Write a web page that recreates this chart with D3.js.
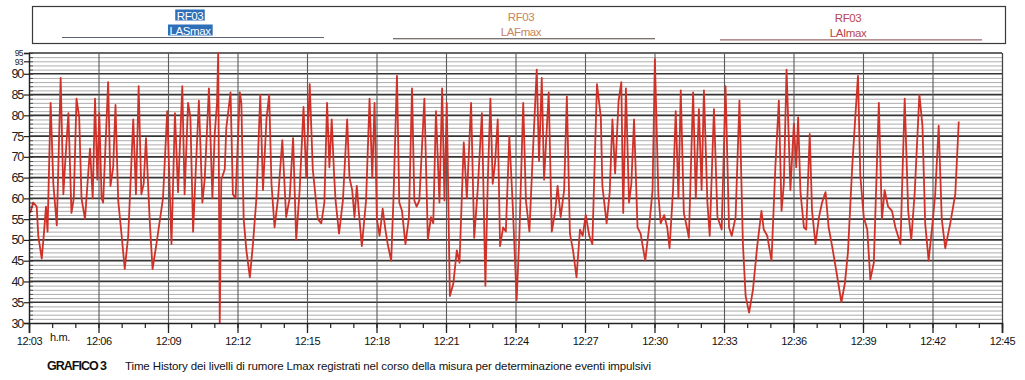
<!DOCTYPE html>
<html>
<head>
<meta charset="utf-8">
<script src="https://cdn.jsdelivr.net/npm/d3@7"></script>
<style>
  body { margin: 0; background: #fff; }
  svg { display: block; }
  text { font-family: "Liberation Sans", Arial, sans-serif; }
</style>
</head>
<body>
<svg id="chart" width="1025" height="380"></svg>
<script>
// ---- data ----------------------------------------------------------------
const startClock = "12:03:00";
const endClock = "12:45:00";
const stationName = "RF03";
const seriesNames = ["LASmax", "LAFmax", "LAImax"];
const chartNumber = "GRAFICO 3";
const captionText = "Time History dei livelli di rumore Lmax registrati nel corso della misura per determinazione eventi impulsivi";
const timeUnitLabel = "h.m.";
const yTickValues = [30, 35, 40, 45, 50, 55, 60, 65, 70, 75, 80, 85, 90, 93, 95];

// seconds elapsed since 12:03:00
const elapsedSeconds = [
  3, 11, 20, 24, 33, 39, 44, 48, 56, 63,
  72, 82, 89, 93, 102, 110, 116, 123, 130, 136,
  145, 158, 165, 171, 177, 182, 188, 192, 205, 211,
  218, 224, 231, 240, 248, 257, 270, 277, 284, 291,
  297, 303, 313, 320, 330, 347, 358, 369, 378, 386,
  397, 403, 412, 418, 425, 432, 440, 449, 455, 466,
  475, 481, 487, 490, 494, 498, 507, 511, 522, 528,
  535, 546, 550, 556, 563, 572, 580, 589, 599, 606,
  615, 622, 628, 636, 645, 656, 666, 675, 684, 692,
  701, 711, 718, 727, 735, 748, 757, 765, 772, 778,
  784, 790, 794, 803, 813, 824, 830, 837, 843, 849,
  854, 862, 873, 882, 889, 895, 901, 908, 916, 923,
  929, 938, 944, 953, 959, 966, 975, 984, 992, 998,
  1004, 1011, 1024, 1033, 1041, 1047, 1054, 1063, 1070, 1076,
  1082, 1090, 1099, 1108, 1115, 1126, 1134, 1145, 1153, 1162,
  1173, 1182, 1188, 1195, 1201, 1207, 1214, 1220, 1228, 1235,
  1244, 1253, 1263, 1270, 1280, 1287, 1296, 1304, 1315, 1321,
  1328, 1334, 1346, 1354, 1363, 1369, 1377, 1386, 1393, 1401,
  1409, 1418, 1427, 1434, 1442, 1451, 1459, 1471, 1481, 1485,
  1496, 1504, 1511, 1518, 1527, 1534, 1539, 1546, 1554, 1560,
  1567, 1576, 1584, 1596, 1606, 1615, 1621, 1630, 1636, 1645,
  1653, 1659, 1668, 1675, 1682, 1688, 1696, 1705, 1709, 1720,
  1727, 1735, 1742, 1748, 1757, 1763, 1774, 1783, 1794, 1804,
  1813, 1820, 1830, 1840, 1849, 1856, 1865, 1875, 1886, 1897,
  1903, 1912, 1923, 1933, 1942, 1949, 1955, 1962, 1972, 1981,
  1987, 1992, 1998, 2007, 2013, 2022, 2028, 2037, 2046, 2054,
  2063, 2071, 2080, 2090, 2104, 2113, 2121, 2132, 2140, 2147,
  2153, 2162, 2171, 2179, 2188, 2201, 2209, 2216, 2225, 2235,
  2244, 2257, 2268, 2277, 2285, 2294, 2306, 2314, 2321, 2330,
  2340, 2347, 2356, 2364, 2373, 2386, 2399, 2408
];

// Lmax level, dB(A)
const levelsDb = [
  56.5, 59, 58, 51, 45.5, 52, 58, 52, 83, 63.5,
  53.5, 89, 61, 67.5, 80.5, 56.5, 60, 84, 79.5, 60,
  55, 72, 60, 84, 64.5, 80.5, 60, 59, 88, 63,
  67.5, 82.5, 59.5, 51, 43, 51, 79, 61, 87, 61,
  63.5, 74.5, 54, 43, 49, 60, 81, 49, 80.5, 61.5,
  87, 61, 83, 79.5, 52, 67, 83.5, 59, 64.5, 86.5,
  60, 75.5, 83, 95, 30, 64.5, 67, 77, 85.5, 61,
  60, 85.5, 83, 55, 47.5, 41, 49, 60, 85, 62,
  79, 85, 63.5, 53, 60, 74, 55.5, 60, 74.5, 50,
  62, 82, 65, 87.5, 67, 55, 54, 59, 83, 67.5,
  79, 66, 59.5, 51.5, 59.5, 79, 65, 62, 55.5, 63,
  57, 48.5, 59.5, 84, 65, 83, 55, 51, 57.5, 52.5,
  49, 45, 60, 89.5, 59, 57, 49, 55.5, 86.5, 59.5,
  58, 59.5, 84, 50, 55.5, 54, 81, 59, 86.5, 59.5,
  83, 36.5, 39.5, 47.5, 44.5, 73.5, 60, 83, 50.5, 62,
  80.5, 39, 63.5, 84, 63.5, 68.5, 79, 48.5, 53, 52,
  75, 58, 35.5, 51, 83, 59.5, 52, 69, 91, 69,
  89, 64.5, 85.5, 52, 57, 63, 55.5, 62, 84.5, 51.5,
  47.5, 41, 52.5, 51, 56, 51, 49, 87.5, 79.5, 63,
  54, 61.5, 79, 66, 83.5, 88, 56.5, 86.5, 59, 63.5,
  79, 53, 51.5, 45, 53, 62, 93.5, 61, 54, 56,
  53, 48, 62, 81, 60, 86, 56.5, 52.5, 50.5, 85.5,
  60, 81.5, 62, 86, 59, 51, 81.5, 55.5, 52.5, 87,
  53, 51, 55.5, 83.5, 49, 36.5, 32.5, 38, 48.5, 57,
  52.5, 51, 45, 67.5, 83.5, 57, 63.5, 91, 62, 78,
  67.5, 79.5, 61.5, 53, 52.5, 75.5, 57, 49, 55.5, 59,
  61.5, 53, 48.5, 43, 35, 39.5, 47, 67.5, 79.5, 89.5,
  65.5, 55.5, 52.5, 40.5, 44.5, 83, 55, 62, 58, 57,
  53, 49, 84, 57, 50, 61.5, 85, 77.5, 54, 45,
  54, 61, 77.5, 55, 48, 54, 61, 78.5
];

// ---- layout ---------------------------------------------------------------
const svg = d3.select("#chart");
const plot = { left: 29, right: 1002, top: 53, bottom: 323 };
const parseClock = d3.timeParse("%H:%M:%S");
const t0 = parseClock(startClock);
const t1 = parseClock(endClock);

const x = d3.scaleTime().domain([t0, t1]).range([plot.left, plot.right]);
const y = d3.scaleLinear().domain([30, 95]).range([plot.bottom, plot.top]);

const points = elapsedSeconds.map((s, i) => ({
  time: d3.timeSecond.offset(t0, s),
  level: levelsDb[i]
}));

// ---- legend box -------------------------------------------------------------
const legend = svg.append("g");
legend.append("rect")
  .attr("x", 32.5).attr("y", 6.5).attr("width", 973).attr("height", 37)
  .attr("fill", "none").attr("stroke", "#3a3a3a").attr("stroke-width", 1.2);

const legendStyle = [
  { cx: 190, text: "#ffffff", bg: "#2f6fb8", line: "#5c6670" },
  { cx: 521, text: "#c5845e", bg: null, line: "#4a4440" },
  { cx: 848, text: "#b9474a", bg: null, line: "#9a6a6a" }
];

seriesNames.forEach((name, i) => {
  const st = legendStyle[i];
  const g = legend.append("g");
  g.append("line")
    .attr("x1", st.cx - 128).attr("x2", st.cx + 134)
    .attr("y1", 37.5 + i * 1.2).attr("y2", 37.5 + i * 1.2)
    .attr("stroke", st.line).attr("stroke-width", 1.1);
  const rows = [stationName, name];
  rows.forEach((txt, r) => {
    const t = g.append("text")
      .attr("x", st.cx).attr("y", 19.5 + r * 15 + i * 1)
      .attr("text-anchor", "middle")
      .attr("font-size", 11.5)
      .attr("letter-spacing", "-0.4")
      .attr("fill", st.text)
      .text(txt);
    if (st.bg) {
      const b = t.node().getBBox();
      g.insert("rect", () => t.node())
        .attr("x", b.x - 1.5).attr("y", b.y)
        .attr("width", b.width + 3).attr("height", b.height - 1)
        .attr("fill", st.bg);
    }
  });
});

// ---- grid -------------------------------------------------------------------
const grid = svg.append("g");
const minorLevels = d3.range(31, 95).filter(v => v % 5 !== 0);
grid.selectAll("line.minor-h").data(minorLevels).join("line")
  .attr("x1", plot.left).attr("x2", plot.right)
  .attr("y1", d => y(d) + 0.5).attr("y2", d => y(d) + 0.5)
  .attr("stroke", "#a4a4a4").attr("stroke-width", 0.9);

const majorLevels = d3.range(35, 96, 5);
grid.selectAll("line.major-h").data(majorLevels).join("line")
  .attr("x1", plot.left).attr("x2", plot.right)
  .attr("y1", d => y(d)).attr("y2", d => y(d))
  .attr("stroke", "#353535").attr("stroke-width", 1.7);

const gridTimes = x.ticks(d3.timeMinute.every(3));
grid.selectAll("line.v").data(gridTimes).join("line")
  .attr("x1", d => x(d) + 0.5).attr("x2", d => x(d) + 0.5)
  .attr("y1", plot.top).attr("y2", plot.bottom)
  .attr("stroke", "#5a5a5a").attr("stroke-width", 1.1);

// ---- series -----------------------------------------------------------------
const line = d3.line()
  .x(d => x(d.time))
  .y(d => y(d.level));

svg.append("path")
  .datum(points)
  .attr("fill", "none")
  .attr("stroke", "#cf3128")
  .attr("stroke-width", 1.8)
  .attr("stroke-linejoin", "round")
  .attr("d", line);

// ---- axes -------------------------------------------------------------------
const xMinor = svg.append("g")
  .attr("transform", `translate(0,${plot.bottom})`)
  .call(d3.axisBottom(x).ticks(d3.timeMinute.every(1)).tickSize(5).tickFormat(""));
xMinor.select(".domain").remove();
xMinor.selectAll("line").attr("stroke", "#222").attr("stroke-width", 1.2);

const xAxis = svg.append("g")
  .attr("transform", `translate(0,${plot.bottom})`)
  .call(d3.axisBottom(x).ticks(d3.timeMinute.every(3)).tickSize(10).tickPadding(4)
    .tickFormat(d3.timeFormat("%H:%M")));
xAxis.select(".domain").attr("stroke", "#222").attr("stroke-width", 1.6);
xAxis.selectAll("line").attr("stroke", "#222").attr("stroke-width", 1.3);
xAxis.selectAll("text")
  .attr("font-size", 11).attr("letter-spacing", "-0.4").attr("fill", "#111")
  .attr("font-family", "'Liberation Sans', Arial, sans-serif");

svg.append("text")
  .attr("x", 60).attr("y", 341)
  .attr("text-anchor", "middle").attr("font-size", 11).attr("letter-spacing", "-0.4")
  .attr("fill", "#111").text(timeUnitLabel);

const yMinor = svg.append("g")
  .attr("transform", `translate(${plot.left},0)`)
  .call(d3.axisRight(y).tickValues(d3.range(30, 96, 1)).tickSize(4).tickFormat(""));
yMinor.select(".domain").remove();
yMinor.selectAll("line").attr("stroke", "#333").attr("stroke-width", 0.8);

const yAxis = svg.append("g")
  .attr("transform", `translate(${plot.left},0)`)
  .call(d3.axisLeft(y).tickValues(yTickValues).tickSize(5).tickPadding(1).tickFormat(d3.format("d")));
yAxis.select(".domain").attr("stroke", "#222").attr("stroke-width", 1.4);
yAxis.selectAll("line").attr("stroke", "#222").attr("stroke-width", 1.2);
yAxis.selectAll("text")
  .attr("font-size", d => d > 90 ? 8.5 : 12.5)
  .attr("letter-spacing", d => d > 90 ? "-0.6" : "-1.2")
  .attr("fill", "#222")
  .attr("font-family", "'Liberation Sans', Arial, sans-serif");

// right frame edge
svg.append("line")
  .attr("x1", plot.right + 0.5).attr("x2", plot.right + 0.5)
  .attr("y1", plot.top).attr("y2", plot.bottom)
  .attr("stroke", "#444").attr("stroke-width", 1.2);

// ---- caption ----------------------------------------------------------------
svg.append("text")
  .attr("x", 47).attr("y", 370)
  .attr("font-size", 12.5).attr("font-weight", "bold").attr("letter-spacing", "-1")
  .attr("fill", "#111").text(chartNumber);

svg.append("text")
  .attr("x", 125).attr("y", 370)
  .attr("font-size", 11.5).attr("letter-spacing", "-0.12")
  .attr("fill", "#111").text(captionText);
</script>
</body>
</html>
